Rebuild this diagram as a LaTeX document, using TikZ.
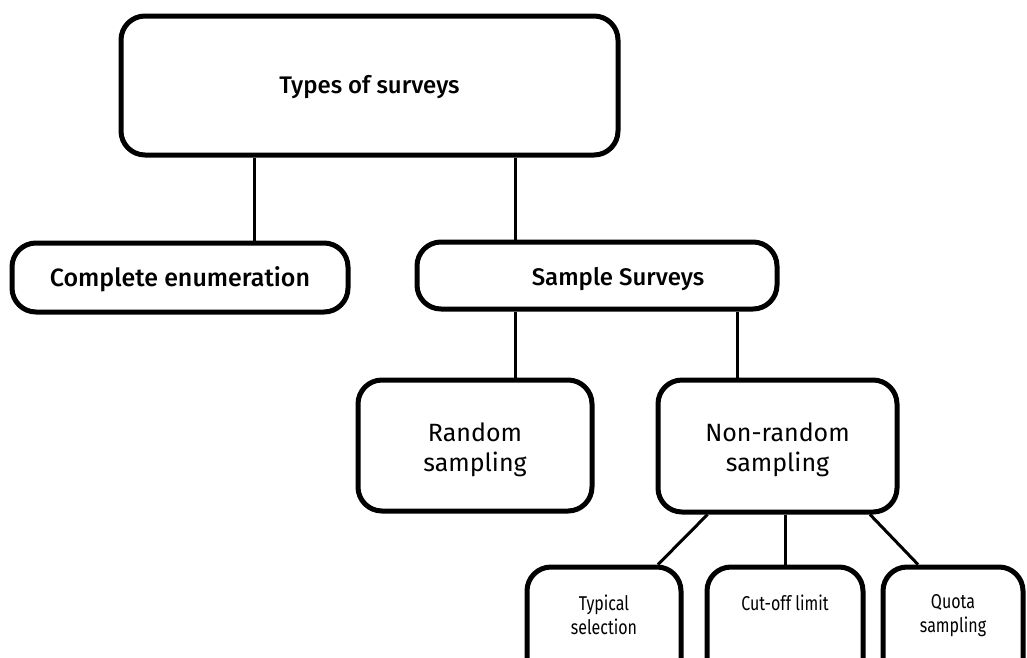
\documentclass[tikz,border=0pt]{standalone}
\usepackage{fontspec}
\IfFontExistsTF{Fira Sans Medium}
  {\setmainfont{Fira Sans}[BoldFont={Fira Sans Medium}]}
  {\setmainfont{Fira Sans}}
\newfontfamily\narrowfont{Fira Sans}[FakeStretch=0.8]
\usetikzlibrary{calc, positioning}

\begin{document}
\begin{tikzpicture}[x=1pt,y=-1pt,
  box/.style={draw, line width=5pt, rounded corners=24pt, fill=white, inner sep=0pt},
  link/.style={line width=3pt},
  headtext/.style={font=\bfseries\fontsize{24}{29}\selectfont},
  midtext/.style={font=\fontsize{25}{30}\selectfont, align=center},
  smalltext/.style={font=\narrowfont\fontsize{20}{24}\selectfont, align=center}]
\useasboundingbox (0,0) rectangle (1027,657);
\clip (0,0) rectangle (1027,657);

% boxes
\node[box, minimum width=497pt, minimum height=139pt] (types) at (369.5,85.5) {};
\node[box, minimum width=336pt, minimum height=69pt] (compl) at (180,277.5) {};
\node[box, minimum width=360pt, minimum height=67pt] (sample) at (597,275.5) {};
\node[box, minimum width=234pt, minimum height=131pt] (rand) at (475,445.5) {};
\node[box, minimum width=239pt, minimum height=132pt] (nonrand) at (777.5,446) {};
\node[box, minimum width=154pt, minimum height=120pt] (typical) at (604,627) {};
\node[box, minimum width=156pt, minimum height=120pt] (cutoff) at (785,627) {};
\node[box, minimum width=140pt, minimum height=120pt] (quota) at (953,627) {};

% labels
\node[headtext] at ([yshift=-2pt]types.center) {Types of surveys};
\node[headtext, font=\bfseries\fontsize{25}{30}\selectfont] at ([yshift=-2pt]compl.center) {Complete enumeration};
\node[headtext] at ([xshift=21pt, yshift=-4pt]sample.center) {Sample Surveys};
\node[midtext] at ([yshift=-4pt]rand.center) {Random\\sampling};
\node[midtext] at ([yshift=-4pt]nonrand.center) {Non-random\\sampling};
\node[smalltext, anchor=north] at (604,591) {Typical\\selection};
\node[smalltext, anchor=north] at (785,591) {Cut-off limit};
\node[smalltext, anchor=north] at (953,591) {Quota\\sampling};

% connectors
\draw[link] ([xshift=74pt]compl.north) coordinate (c1) -- (c1 |- types.south);
\draw[link] ([xshift=-82pt]sample.north) coordinate (c2) -- (c2 |- types.south);
\draw[link] ([xshift=40pt]rand.north) coordinate (c3) -- (c3 |- sample.south);
\draw[link] ([xshift=-40pt]nonrand.north) coordinate (c4) -- (c4 |- sample.south);
\draw[link] ([xshift=-70pt]nonrand.south) -- ([xshift=54pt]typical.north);
\draw[link] ([xshift=7.5pt]nonrand.south) coordinate (c5) -- (c5 |- cutoff.north);
\draw[link] ([xshift=92.5pt]nonrand.south) -- ([xshift=-35pt]quota.north);
\end{tikzpicture}
\end{document}
